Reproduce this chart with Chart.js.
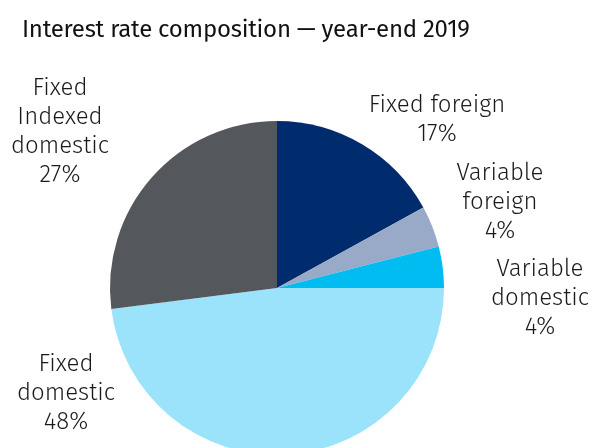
<!DOCTYPE html>
<html>
<head>
<meta charset="utf-8">
<script src="https://cdn.jsdelivr.net/npm/chart.js@4.4.1/dist/chart.umd.min.js"></script>
<style>
  html, body { margin: 0; padding: 0; background: #fff; overflow: hidden; width: 592px; height: 448px; }
  canvas { display: block; }
</style>
</head>
<body>
<canvas id="c" width="592" height="600"></canvas>
<script>
// Interest rate composition at year-end 2019, shares in percent
const categories = ['Fixed foreign', 'Variable foreign', 'Variable domestic', 'Fixed domestic', 'Fixed Indexed domestic'];
const shares = [17, 4, 4, 48, 27];
const colors = ['#002c6d', '#99aac8', '#00bcf1', '#9be3fa', '#54575c'];
const labelLines = [
  ['Fixed foreign', '17%'],
  ['Variable', 'foreign', '4%'],
  ['Variable', 'domestic', '4%'],
  ['Fixed', 'domestic', '48%'],
  ['Fixed', 'Indexed', 'domestic', '27%']
];
// label block anchors (centre x, baseline of first line)
const labelAnchors = [
  [437, 112],
  [500, 180],
  [540, 276],
  [66, 371],
  [60, 95]
];
const titleText = 'Interest rate composition \u2014 year-end 2019';

const FONT = '"Fira Sans", "Open Sans", "Noto Sans", sans-serif';

const textPlugin = {
  id: 'texts',
  afterDraw(chart) {
    const ctx = chart.ctx;
    ctx.save();
    ctx.fillStyle = '#111';
    ctx.textBaseline = 'alphabetic';
    ctx.textAlign = 'left';
    ctx.font = '400 24px ' + FONT;
    ctx.letterSpacing = '-0.25px';
    ctx.fillText(titleText, 22, 37);
    ctx.letterSpacing = '0px';

    ctx.font = '300 24px ' + FONT;
    ctx.fillStyle = '#1a1a1a';
    ctx.textAlign = 'center';
    labelLines.forEach((lines, i) => {
      const [x, y] = labelAnchors[i];
      lines.forEach((t, j) => ctx.fillText(t, x, y + j * 29));
    });
    ctx.restore();
  }
};

new Chart(document.getElementById('c'), {
  type: 'pie',
  data: {
    labels: categories,
    datasets: [{
      data: shares,
      backgroundColor: colors,
      borderWidth: 0
    }]
  },
  options: {
    responsive: false,
    animation: false,
    layout: { padding: { left: 110, top: 121, right: 148, bottom: 145 } },
    plugins: {
      legend: { display: false },
      title: { display: false },
      tooltip: { enabled: false }
    }
  },
  plugins: [textPlugin]
});
</script>
</body>
</html>
